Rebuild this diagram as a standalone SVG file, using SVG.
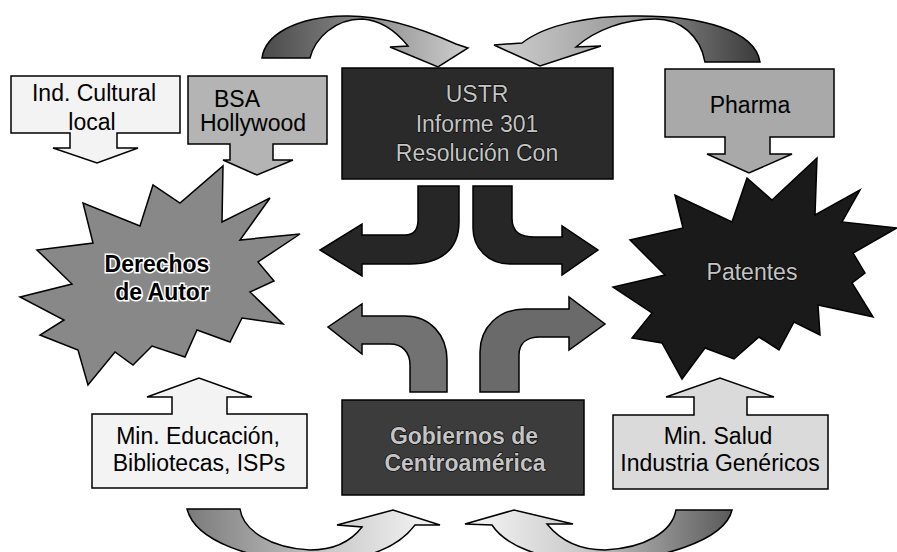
<svg xmlns="http://www.w3.org/2000/svg" width="897" height="552" viewBox="0 0 897 552">
<defs>
<linearGradient id="gTL" x1="0" y1="0" x2="1" y2="0"><stop offset="0" stop-color="#4a4a4a"/><stop offset="0.5" stop-color="#8a8a8a"/><stop offset="1" stop-color="#cfcfcf"/></linearGradient>
<linearGradient id="gTR" x1="0" y1="0" x2="1" y2="0"><stop offset="0" stop-color="#d0d0d0"/><stop offset="0.5" stop-color="#9a9a9a"/><stop offset="1" stop-color="#3a3a3a"/></linearGradient>
<linearGradient id="gBL" x1="0" y1="0" x2="1" y2="0"><stop offset="0" stop-color="#7a7a7a"/><stop offset="0.55" stop-color="#c8c8c8"/><stop offset="1" stop-color="#f8f8f8"/></linearGradient>
<linearGradient id="gBR" x1="0" y1="0" x2="1" y2="0"><stop offset="0" stop-color="#f8f8f8"/><stop offset="0.45" stop-color="#c8c8c8"/><stop offset="1" stop-color="#5a5a5a"/></linearGradient>
</defs>
<style>
.sh{stroke:#000;stroke-width:1.5;stroke-linejoin:miter}
.t{font-family:"Liberation Sans",Arial,sans-serif;font-size:23px;text-anchor:middle;fill:#000}
.tl{font-family:"Liberation Sans",Arial,sans-serif;font-size:23px;text-anchor:middle;fill:#c4c4c4;stroke:#000;stroke-width:1.2;paint-order:stroke}
.tb{font-weight:bold}
.td{font-family:"Liberation Sans",Arial,sans-serif;font-size:23px;font-weight:bold;text-anchor:middle;fill:#000;stroke:#fff;stroke-width:3;paint-order:stroke}
</style>
<rect width="897" height="552" fill="#fff"/>
<g id="connectors">
<path class="sh" fill="url(#gTL)" d="M262,58 C265,35 295,17 345,16 C385,15 425,30 456,44 L468,48 L438,67 L390,47 L408,46 C395,30 380,20 362,19 C335,19 315,38 310,58 Z"/>
<path class="sh" fill="url(#gTR)" d="M522,43 C545,25 590,15 640,16 C700,16 755,30 760,62 L705,62 C700,35 680,19 655,19 C625,19 595,30 576,47 L601,46 L540,66 L494,45 Z"/>
<path class="sh" fill="url(#gBL)" d="M187,509 L240,509 C243,530 270,548 310,550 C335,550 352,540 362,527 L337,525 L393,510 L440,525 L415,525 C400,545 370,560 320,562 C250,562 195,540 187,509 Z"/>
<path class="sh" fill="url(#gBR)" d="M732,510 L676,510 C672,532 645,548 605,550 C580,550 560,540 547,524 L573,524 L514,510 L465,524 L492,525 C505,545 540,560 590,562 C660,562 725,540 732,510 Z"/>
<path class="sh" fill="#262626" d="M418,186 L459,186 L459,222 C459,250 440,264 410,264 L362,264 L362,276 L320,250 L362,224 L362,235 L405,235 C414,235 418,230 418,220 Z"/>
<path class="sh" fill="#262626" d="M473,186 L512,186 L512,218 C512,232 520,237 535,237 L562,237 L562,226 L598,250 L562,275 L562,264 L510,264 C488,264 473,248 473,228 Z"/>
<path class="sh" fill="#727272" d="M447,392 L410,392 L410,365 C410,352 402,344 390,344 L362,344 L362,354 L328,327 L362,304 L362,316 L405,316 C430,316 447,335 447,360 Z"/>
<path class="sh" fill="#6a6a6a" d="M480,392 L519,392 L519,355 C519,343 527,337 540,337 L569,337 L569,350 L605,324 L569,297 L569,309 L525,309 C498,309 480,328 480,352 Z"/>
</g>
<g id="ind-cultural">
<path class="sh" fill="#f3f3f3" d="M11,76 H180 V133 H117 V148 H138 L97,163 L53,148 H70 V133 H11 Z"/>
<text class="t" x="94" y="101">Ind. Cultural</text>
<text class="t" x="92" y="130">local</text>
</g>
<g id="bsa">
<path class="sh" fill="#b4b4b4" d="M188,76 H327 V144 H273 V160 H293 L257,175 L223,160 H230 V144 H188 Z"/>
<text class="t" x="237" y="107">BSA</text>
<text class="t" x="253" y="131">Hollywood</text>
</g>
<g id="ustr">
<rect class="sh" x="342" y="68" width="271" height="111" fill="#2a2a2a"/>
<text class="tl" x="477" y="102">USTR</text>
<text class="tl" x="477" y="132">Informe 301</text>
<text class="tl" x="477" y="161">Resolución Con</text>
</g>
<g id="pharma">
<path class="sh" fill="#a9a9a9" d="M665,69 H834 V137 H770 V154 H792 L749,173 L707,154 H725 V137 H665 Z"/>
<text class="t" x="750" y="113">Pharma</text>
</g>
<g id="derechos">
<polygon class="sh" fill="#888" points="223,166 222,222 270,198 240,240 300,234 258,262 274,281 250,292 283,324 242,318 230,342 197,330 185,357 152,346 133,365 115,352 88,385 78,350 40,335 64,320 20,297 72,284 37,250 93,243 83,203 140,226 153,185 180,203"/>
<text class="td" x="157" y="272">Derechos</text>
<text class="td" x="162" y="300">de Autor</text>
</g>
<g id="patentes">
<polygon class="sh" fill="#1a1a1a" points="817,158 815,215 860,190 842,222 897,228 853,253 865,273 852,283 873,317 818,305 820,335 794,322 779,350 759,337 734,359 705,348 682,379 662,343 632,338 652,313 613,287 665,275 630,240 683,228 675,195 732,222 747,178 772,200"/>
<text class="tl" x="752" y="280">Patentes</text>
</g>
<g id="min-educacion">
<path class="sh" fill="#f3f3f3" d="M92,414 H172 V397 H147 L199,378 L252,397 H227 V414 H307 V488 H92 Z"/>
<text class="t" x="198" y="444">Min. Educación,</text>
<text class="t" x="199" y="471">Bibliotecas, ISPs</text>
</g>
<g id="gobiernos">
<rect class="sh" x="342" y="400" width="242" height="95" fill="#3c3c3c"/>
<text class="tl tb" x="464" y="444">Gobiernos de</text>
<text class="tl tb" x="465" y="471">Centroamérica</text>
</g>
<g id="min-salud">
<path class="sh" fill="#dadada" d="M613,415 H694 V397 H666 L720,378 L774,397 H747 V415 H828 V489 H613 Z"/>
<text class="t" x="718" y="444">Min. Salud</text>
<text class="t" x="720" y="471">Industria Genéricos</text>
</g>
</svg>
